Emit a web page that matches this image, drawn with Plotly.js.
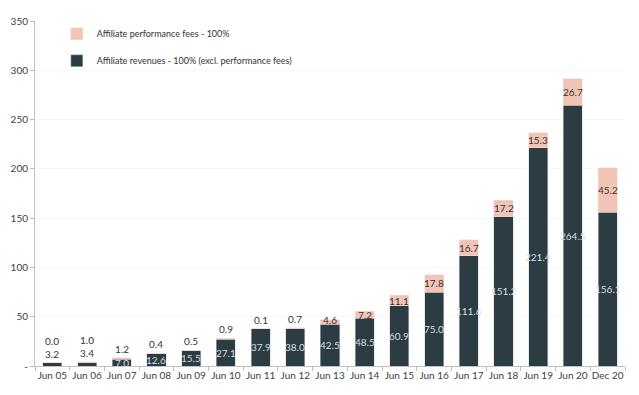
<!DOCTYPE html>
<html><head><meta charset="utf-8">
<script src="https://cdn.plot.ly/plotly-3.0.1.min.js"></script>
<style>html,body{margin:0;padding:0;background:#fff}#c{width:639px;height:395px}</style>
</head><body><div id="c"></div>
<script>
const categories = ["Jun 05","Jun 06","Jun 07","Jun 08","Jun 09","Jun 10","Jun 11","Jun 12","Jun 13","Jun 14","Jun 15","Jun 16","Jun 17","Jun 18","Jun 19","Jun 20","Dec 20"];
const revenues = [3.2,3.4,7.0,12.6,15.5,27.1,37.9,38.0,42.5,48.5,60.9,75.0,111.6,151.2,221.4,264.5,156.1];
const perfFees = [0.0,1.0,1.2,0.4,0.5,0.9,0.1,0.7,4.6,7.2,11.1,17.8,16.7,17.2,15.3,26.7,45.2];
const yTickVals = [0,50,100,150,200,250,300,350];
const yTickText = ["-","50","100","150","200","250","300","350"];
const darkColor = "#2B3C43", peachColor = "#F2C4B6";

const traces = [
  {type:"bar", x:categories, y:revenues, name:"Affiliate revenues - 100% (excl. performance fees)",
   marker:{color:darkColor, line:{color:"#cfd6d8", width:0.5}}, legendgroup:"b", legendrank:2, hoverinfo:"skip"},
  {type:"bar", x:categories, y:perfFees, name:"Affiliate performance fees - 100%",
   marker:{color:peachColor, line:{color:"#f7dcd3", width:0.5}}, legendgroup:"a", legendrank:1, hoverinfo:"skip"}
];

const fnt = {family:"Lato, 'Open Sans', sans-serif", size:10};
const ann = [];
categories.forEach((c,i)=>{
  const r = revenues[i], p = perfFees[i], top = r + p;
  const smallDark = r < 5;
  if (smallDark) {
    ann.push({x:c, y:top, text:r.toFixed(1), showarrow:false, yshift:9,
      font:Object.assign({}, fnt, {color:"#333"})});
  } else {
    ann.push({x:c, y:r/2, text:r.toFixed(1), showarrow:false,
      font:Object.assign({}, fnt, {color:"#d9dfe1"})});
  }
  if (p < 2) {
    ann.push({x:c, y:top, text:p.toFixed(1), showarrow:false, yshift: smallDark ? 22 : 9,
      font:Object.assign({}, fnt, {color:"#333"})});
  } else {
    ann.push({x:c, y:r + p/2, text:p.toFixed(1), showarrow:false, yshift: p < 6 ? 2 : 0,
      font:Object.assign({}, fnt, {color:"#333"})});
  }
});

const layout = {
  width:639, height:395,
  margin:{l:35, r:14, t:21, b:29},
  paper_bgcolor:"#fff", plot_bgcolor:"#fff",
  barmode:"stack", bargap:0.45,
  font:{family:"Lato, 'Open Sans', sans-serif", color:"#404040", size:10},
  showlegend:true,
  legend:{x:0.037, y:1.005, xanchor:"left", yanchor:"top", traceorder:"grouped",
    tracegroupgap:8, bgcolor:"rgba(0,0,0,0)", font:{size:9, color:"#333"}, itemwidth:30},
  xaxis:{type:"category", showline:true, linecolor:"#bfbfbf", linewidth:1, tickangle:0,
    ticks:"outside", tickson:"boundaries", ticklen:4, tickcolor:"#bfbfbf",
    tickfont:{size:10, color:"#404040"}, showgrid:false, fixedrange:true},
  yaxis:{range:[0,350], tickvals:yTickVals, ticktext:yTickText, showline:true, linecolor:"#bfbfbf",
    ticks:"outside", ticklen:4, tickcolor:"#bfbfbf", showgrid:true, gridcolor:"#f7f7f7",
    zeroline:false, tickfont:{size:10, color:"#404040"}, fixedrange:true},
  annotations:ann
};
Plotly.newPlot("c", traces, layout, {displayModeBar:false, staticPlot:true});
</script></body></html>
